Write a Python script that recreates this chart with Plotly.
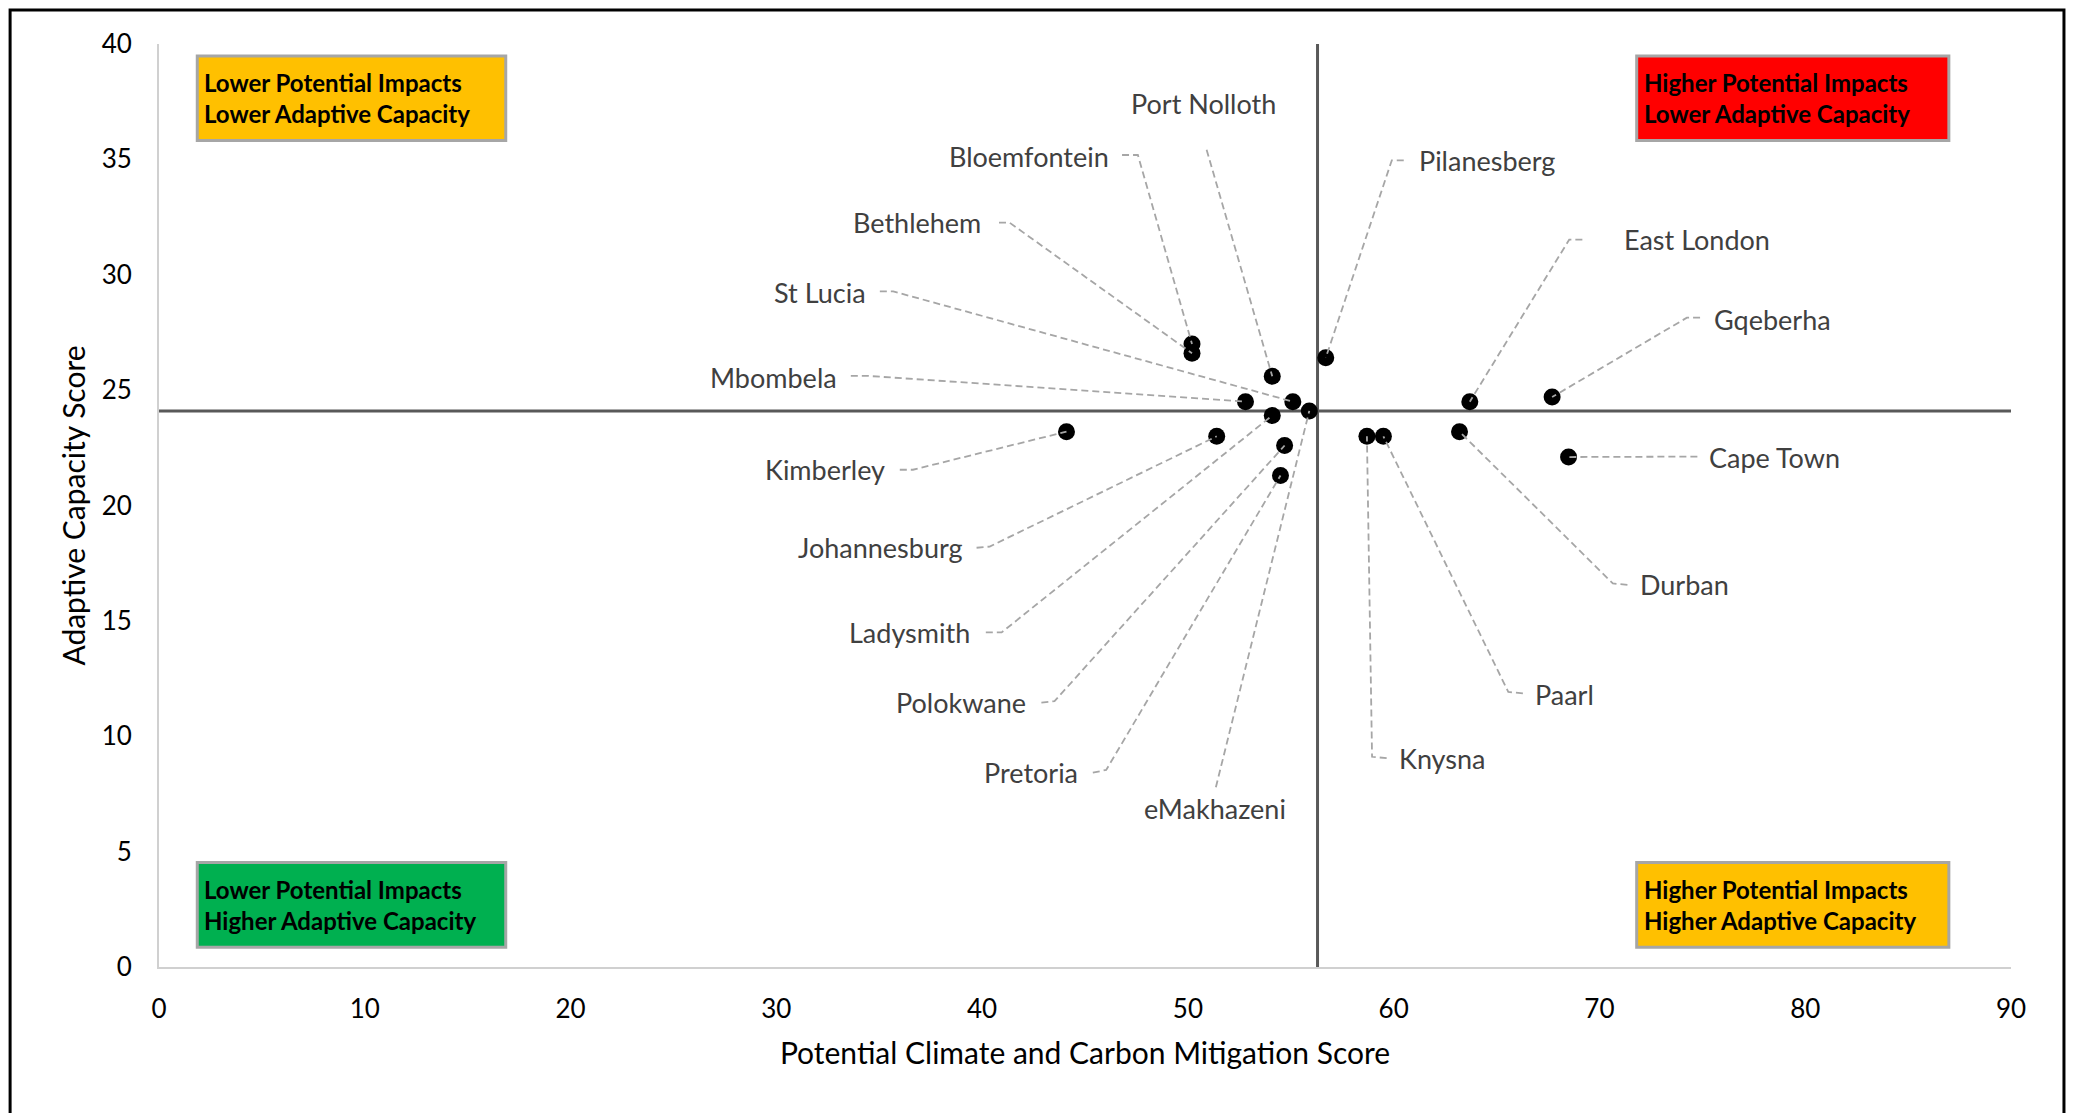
import plotly.graph_objects as go

# ---------------- data ----------------
cities = ["Bloemfontein", "Bethlehem", "Port Nolloth", "Pilanesberg", "Mbombela",
          "St Lucia", "eMakhazeni", "Ladysmith", "Johannesburg", "Polokwane",
          "Pretoria", "Kimberley", "East London", "Gqeberha", "Knysna", "Paarl",
          "Durban", "Cape Town"]
mitigation_score = [50.2, 50.2, 54.1, 56.7, 52.8, 55.1, 55.9, 54.1, 51.4, 54.7,
                    54.5, 44.1, 63.7, 67.7, 58.7, 59.5, 63.2, 68.5]
adaptive_score = [27.0, 26.6, 25.6, 26.4, 24.5, 24.5, 24.1, 23.9, 23.0, 22.6,
                  21.3, 23.2, 24.5, 24.7, 23.0, 23.0, 23.2, 22.1]

ref_mitigation = 56.3
ref_adaptive = 24.1

x_ticks = [0, 10, 20, 30, 40, 50, 60, 70, 80, 90]
y_ticks = [0, 5, 10, 15, 20, 25, 30, 35, 40]

quadrant_texts = [
    "Lower Potential Impacts<br>Lower Adaptive Capacity",
    "Higher Potential Impacts<br>Lower Adaptive Capacity",
    "Lower Potential Impacts<br>Higher Adaptive Capacity",
    "Higher Potential Impacts<br>Higher Adaptive Capacity",
]
quadrant_colors = ["#FFC000", "#FF0000", "#00B050", "#FFC000"]

# ---------------- label layout (text anchor + leader bends) ----------------
# (text x, text y, xanchor, leader points from text side toward the marker)
label_layout = {
    "Bloemfontein": (46.28, 35.13, "right", [(46.80, 35.19), (47.57, 35.19)]),
    "Bethlehem":    (40.05, 32.26, "right", [(40.82, 32.26), (41.33, 32.26)]),
    "Port Nolloth": (50.78, 37.42, "center", [(50.91, 35.42)]),
    "Pilanesberg":  (61.13, 34.96, "left", [(60.49, 34.96), (59.91, 34.96)]),
    "Mbombela":     (33.04, 25.56, "right", [(33.62, 25.62), (34.39, 25.62)]),
    "St Lucia":     (34.46, 29.23, "right", [(35.03, 29.28), (35.68, 29.28)]),
    "eMakhazeni":   (51.30, 6.88, "center", [(51.36, 7.79)]),
    "Ladysmith":    (39.53, 14.50, "right", [(40.18, 14.50), (40.95, 14.50)]),
    "Johannesburg": (39.15, 18.17, "right", [(39.73, 18.17), (40.37, 18.22)]),
    "Polokwane":    (42.23, 11.46, "right", [(42.88, 11.46), (43.52, 11.52)]),
    "Pretoria":     (44.74, 8.42, "right", [(45.38, 8.42), (46.03, 8.54)]),
    "Kimberley":    (35.36, 21.55, "right", [(36.00, 21.55), (36.64, 21.55)]),
    "East London":  (71.10, 31.52, "left", [(69.17, 31.52), (68.53, 31.52)]),
    "Gqeberha":     (75.47, 28.08, "left", [(74.89, 28.14), (74.25, 28.14)]),
    "Knysna":       (60.17, 9.05, "left", [(59.66, 9.05), (58.95, 9.11)]),
    "Paarl":        (66.79, 11.81, "left", [(66.28, 11.86), (65.57, 11.92)]),
    "Durban":       (71.87, 16.56, "left", [(71.36, 16.56), (70.65, 16.62)]),
    "Cape Town":    (75.21, 22.06, "left", [(74.76, 22.12)]),
}

# quadrant box placement (x0, x1, y0, y1) in axis units
quadrant_boxes = [
    (1.86, 16.85, 35.82, 39.48),
    (71.81, 86.98, 35.82, 39.48),
    (1.86, 16.85, 0.86, 4.53),
    (71.81, 86.98, 0.86, 4.53),
]

FONT = "Lato, 'Open Sans', sans-serif"

fig = go.Figure()

# reference lines
fig.add_trace(go.Scatter(x=[0, 90], y=[ref_adaptive, ref_adaptive], mode="lines",
                         line=dict(color="#595959", width=3), hoverinfo="skip",
                         showlegend=False))
fig.add_trace(go.Scatter(x=[ref_mitigation, ref_mitigation], y=[0, 40], mode="lines",
                         line=dict(color="#595959", width=3), hoverinfo="skip",
                         showlegend=False))

# points
fig.add_trace(go.Scatter(x=mitigation_score, y=adaptive_score, mode="markers",
                         text=cities, marker=dict(color="black", size=17),
                         showlegend=False))

shapes = []
annotations = []

# leader lines + labels
for name, mx, my in zip(cities, mitigation_score, adaptive_score):
    tx, ty, anchor, pts = label_layout[name]
    path_pts = pts + [(mx, my)]
    path = "M {} {}".format(*path_pts[0]) + "".join(
        " L {} {}".format(px, py) for px, py in path_pts[1:])
    shapes.append(dict(type="path", path=path, xref="x", yref="y",
                       line=dict(color="#A6A6A6", width=1.8, dash="7px,4px"),
                       layer="above"))
    annotations.append(dict(x=tx, y=ty, xref="x", yref="y", text=name,
                            showarrow=False, xanchor=anchor, yanchor="middle",
                            font=dict(family=FONT, size=27, color="#404040")))

# quadrant boxes
for (x0, x1, y0, y1), txt, col in zip(quadrant_boxes, quadrant_texts, quadrant_colors):
    shapes.append(dict(type="rect", xref="x", yref="y", x0=x0, x1=x1, y0=y0, y1=y1,
                       fillcolor=col, line=dict(color="#A6A6A6", width=3),
                       layer="below"))
    annotations.append(dict(x=x0 + 0.25, y=(y0 + y1) / 2, xref="x", yref="y",
                            text="<b>" + txt + "</b>", showarrow=False,
                            xanchor="left", yanchor="middle", align="left",
                            font=dict(family=FONT, size=24, color="black")))

# outer frame
shapes.append(dict(type="rect", xref="paper", yref="paper",
                   x0=-0.0804, x1=1.0286, y0=-0.25, y1=1.0368,
                   line=dict(color="black", width=3), fillcolor="rgba(0,0,0,0)",
                   layer="above"))

fig.update_layout(
    width=2066, height=1105,
    margin=dict(l=151, r=63, t=36, b=146),
    paper_bgcolor="white", plot_bgcolor="white",
    shapes=shapes, annotations=annotations,
    font=dict(family=FONT, color="black"),
    xaxis=dict(range=[0, 90], tickvals=x_ticks, showgrid=False, zeroline=False,
               showline=True, linecolor="#D0D0D0", linewidth=2, ticks="",
               ticklabelstandoff=18,
               tickfont=dict(family=FONT, size=26, color="black"),
               title=dict(text="Potential Climate and Carbon Mitigation Score",
                          font=dict(family=FONT, size=30, color="black"),
                          standoff=20)),
    yaxis=dict(range=[0, 40], tickvals=y_ticks, showgrid=False, zeroline=False,
               showline=True, linecolor="#D0D0D0", linewidth=2, ticks="",
               ticklabelstandoff=20,
               tickfont=dict(family=FONT, size=26, color="black"),
               title=dict(text="Adaptive Capacity Score",
                          font=dict(family=FONT, size=30, color="black"),
                          standoff=7)),
)

fig.write_html("out.html")
